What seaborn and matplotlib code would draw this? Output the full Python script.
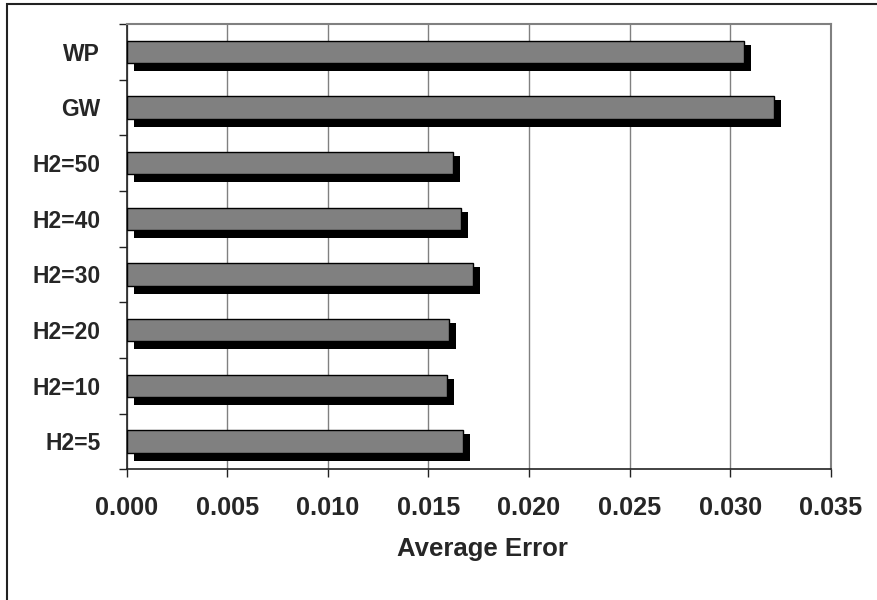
import matplotlib
matplotlib.use("Agg")
import matplotlib.pyplot as plt
import matplotlib.transforms as mtransforms
from matplotlib.patches import Rectangle
from matplotlib.ticker import MultipleLocator, FixedLocator, FormatStrFormatter
import pandas as pd
import seaborn as sns

# Average error per method
methods = ["WP", "GW", "H2=50", "H2=40", "H2=30", "H2=20", "H2=10", "H2=5"]
avg_error = [0.0307, 0.0322, 0.0162, 0.0166, 0.0172, 0.0160, 0.0159, 0.0167]

df = pd.DataFrame({"method": methods, "error": avg_error})

sns.set_style("white")
plt.rcParams["font.family"] = ["Liberation Sans", "DejaVu Sans"]

fig = plt.figure(figsize=(8.77, 6.00), dpi=100)
ax = fig.add_axes([126.7 / 877, 1 - 469.3 / 600, 704 / 877, 445.3 / 600])

# drop shadow: slightly thicker black copy of the bars, shifted right and down
sns.barplot(data=df, x="error", y="method", order=methods, orient="h",
            color="black", saturation=1, width=0.47, linewidth=0, ax=ax)
shift = mtransforms.ScaledTranslation(7 / 100, -6 / 100, fig.dpi_scale_trans)
for p in ax.patches:
    p.set_transform(ax.transData + shift)
    p.set_zorder(2)
n_shadow = len(ax.patches)

sns.barplot(data=df, x="error", y="method", order=methods, orient="h",
            color="#808080", saturation=1, width=0.4, edgecolor="black",
            linewidth=1.0, ax=ax)
for p in ax.patches[n_shadow:]:
    p.set_zorder(3)

ax.set_xlim(0, 0.035)
ax.set_ylim(len(methods) - 0.5, -0.5)
ax.xaxis.set_major_locator(MultipleLocator(0.005))
ax.xaxis.set_major_formatter(FormatStrFormatter("%.3f"))
ax.grid(axis="x", color="#808080", linewidth=1.0, zorder=0)
ax.set_axisbelow(True)

# category boundary ticks on the value axis side
ax.yaxis.set_minor_locator(FixedLocator([i - 0.5 for i in range(len(methods) + 1)]))
ax.tick_params(axis="y", which="major", length=0, pad=19, labelsize=16.5)
ax.tick_params(axis="y", which="minor", left=True, length=6, width=1.0, color="#222222")
ax.tick_params(axis="x", which="major", bottom=True, direction="out", length=6,
               width=1.0, color="#222222", pad=13, labelsize=18.2)
for lab in ax.get_xticklabels() + ax.get_yticklabels():
    lab.set_fontweight("bold")

ax.set_ylabel("")
ax.set_xlabel("Average Error", fontsize=18.5, fontweight="bold")
ax.xaxis.set_label_coords(0.506, -0.180)
ax.xaxis.label.set_verticalalignment("center")

for side in ["left", "bottom"]:
    ax.spines[side].set_color("#222222")
    ax.spines[side].set_linewidth(1.2)
for side in ["top", "right"]:
    ax.spines[side].set_color("#808080")
    ax.spines[side].set_linewidth(1.5)

# chart frame around the whole figure
fig.add_artist(Rectangle((6.5 / 877, -0.05), 1.1, 1 - 3.5 / 600 + 0.05,
                         transform=fig.transFigure, fill=False,
                         edgecolor="#222222", linewidth=1.5, clip_on=False))

fig.savefig("out.png", dpi=100)
